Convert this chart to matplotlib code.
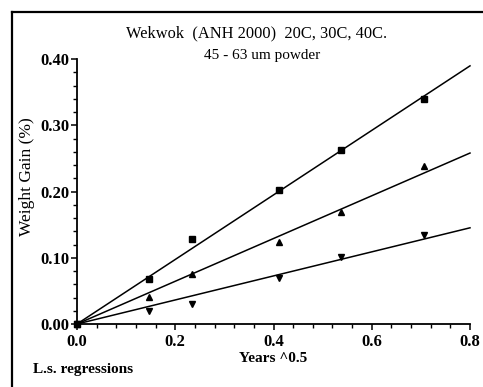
import numpy as np
import matplotlib.pyplot as plt
from matplotlib.ticker import MultipleLocator
from matplotlib.lines import Line2D

# sqrt(years) at each sampling
x = np.array([0.0, 0.147, 0.235, 0.412, 0.537, 0.707])

# weight gain (%) for each temperature
gain_40c = np.array([0.0, 0.0675, 0.128, 0.203, 0.262, 0.339])
gain_30c = np.array([0.0, 0.0412, 0.075, 0.124, 0.169, 0.238])
gain_20c = np.array([0.0, 0.020, 0.030, 0.070, 0.101, 0.134])

series = [(gain_40c, 's'), (gain_30c, '^'), (gain_20c, 'v')]

def fit_origin(x, y):
    # least squares line through the origin
    return np.sum(x * y) / np.sum(x * x)

plt.rcParams['font.family'] = ['Liberation Serif', 'DejaVu Serif']

fig = plt.figure(figsize=(4.83, 3.87), dpi=100)
ax = fig.add_axes([77 / 483, 1 - 324 / 387, 393 / 483, 265 / 387])

x_line = np.array([0.0, 0.8])
for y, m in series:
    ax.plot(x, y, linestyle='none', marker=m, color='black', markersize=5, clip_on=False, zorder=3)
    k = fit_origin(x, y)
    ax.plot(x_line, k * x_line, color='black', linewidth=1.1, clip_on=False)

ax.set_xlim(0, 0.8)
ax.set_ylim(0, 0.40)
ax.spines['top'].set_visible(False)
ax.spines['right'].set_visible(False)
ax.spines['left'].set_linewidth(1.3)
ax.spines['bottom'].set_linewidth(1.3)

ax.xaxis.set_major_locator(MultipleLocator(0.2))
ax.xaxis.set_minor_locator(MultipleLocator(0.04))
ax.yaxis.set_major_locator(MultipleLocator(0.1))
ax.yaxis.set_minor_locator(MultipleLocator(0.02))
ax.xaxis.set_major_formatter(plt.FuncFormatter(lambda v, p: f'{v:.1f}'))
ax.yaxis.set_major_formatter(plt.FuncFormatter(lambda v, p: f'{v:.2f}'))
ax.tick_params(which='major', direction='out', length=4, width=1.1, labelsize=12, pad=1.5)
ax.tick_params(axis='x', which='major', pad=3)
ax.tick_params(which='minor', direction='out', length=3, width=1.0)
for lab in ax.get_xticklabels() + ax.get_yticklabels():
    lab.set_fontweight('bold')

fig.text(257 / 483, 1 - 33 / 387, 'Wekwok  (ANH 2000)  20C, 30C, 40C.', ha='center', va='center', fontsize=11.8)
fig.text(262 / 483, 1 - 55 / 387, '45 - 63 um powder', ha='center', va='center', fontsize=11)
fig.text(27 / 483, 1 - 177 / 387, 'Weight Gain (%)', rotation=90, ha='center', va='center', fontsize=12.5)
fig.text(273 / 483, 1 - 358 / 387, 'Years ^0.5', ha='center', va='center', fontsize=11, fontweight='bold')
fig.text(33 / 483, 1 - 370 / 387, 'L.s. regressions', ha='left', va='center', fontsize=11, fontweight='bold')

# outer frame (left and top edges)
fig.add_artist(Line2D([12 / 483, 12 / 483], [0, 1 - 12 / 387], color='black', linewidth=1.6))
fig.add_artist(Line2D([12 / 483, 1], [1 - 12 / 387, 1 - 12 / 387], color='black', linewidth=1.6))

fig.savefig('out.png', dpi=100)
